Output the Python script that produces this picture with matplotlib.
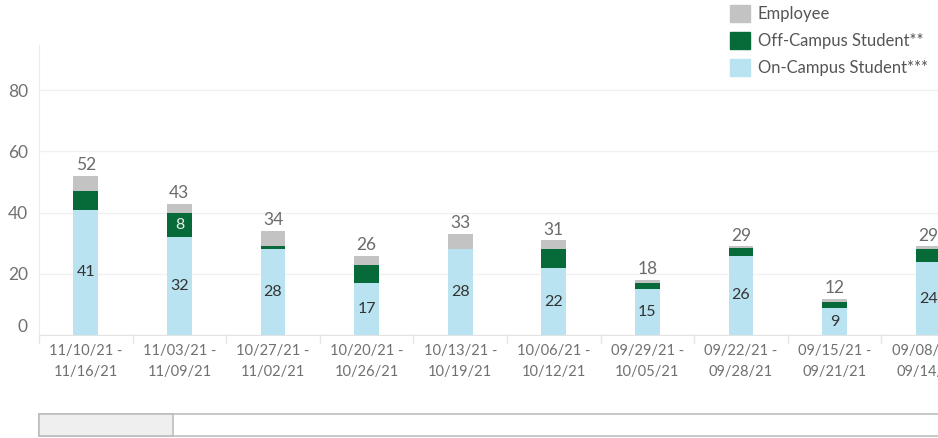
import matplotlib.pyplot as plt
from matplotlib.patches import Patch, Rectangle
from matplotlib.transforms import ScaledTranslation

# weekly case counts (newest week first)
weeks = ["11/10/21 -\n11/16/21", "11/03/21 -\n11/09/21", "10/27/21 -\n11/02/21",
         "10/20/21 -\n10/26/21", "10/13/21 -\n10/19/21", "10/06/21 -\n10/12/21",
         "09/29/21 -\n10/05/21", "09/22/21 -\n09/28/21", "09/15/21 -\n09/21/21",
         "09/08/21 -\n09/14/21"]
on_campus = [41, 32, 28, 17, 28, 22, 15, 26, 9, 24]
off_campus = [6, 8, 1, 6, 0.3, 6, 2, 2.5, 2, 4]
employee = [5, 3, 5, 3, 4.7, 3, 1, 0.5, 1, 1]
series_names = ["Employee", "Off-Campus Student**", "On-Campus Student***"]

c_emp = "#c3c3c3"
c_off = "#076b39"
c_on = "#bae3f1"

plt.rcParams['font.family'] = ['Lato', 'DejaVu Sans']

fig = plt.figure(figsize=(9.38, 4.38), dpi=100)
W, H = 938, 438
# axes box in pixels: left 39, right 938, top 45, bottom 335
ax = fig.add_axes([39 / W, 1 - 335.3 / H, (938 - 39) / W, (335.3 - 45) / H])

x = list(range(len(weeks)))
bw = 0.267
bottom_off = on_campus
bottom_emp = [a + b for a, b in zip(on_campus, off_campus)]
totals = [a + b + c for a, b, c in zip(on_campus, off_campus, employee)]

ax.bar(x, on_campus, width=bw, color=c_on, zorder=3)
ax.bar(x, off_campus, width=bw, bottom=bottom_off, color=c_off, zorder=3)
ax.bar(x, employee, width=bw, bottom=bottom_emp, color=c_emp, zorder=3)

# labels
for i in x:
    ax.text(i, on_campus[i] / 2, f"{on_campus[i]:.0f}", ha="center", va="center",
            fontsize=11.5, color="#333333", zorder=4)
    if off_campus[i] >= 7:
        ax.text(i, on_campus[i] + off_campus[i] / 2, f"{off_campus[i]:.0f}", ha="center",
                va="center", fontsize=11.5, color="#e8efe9", zorder=4)
    ax.annotate(f"{totals[i]:.0f}", (i, totals[i]), xytext=(0, 2), textcoords="offset points",
                ha="center", va="bottom", fontsize=12.5, color="#6b6b6b", zorder=4)

ax.set_xlim(-0.5, -0.5 + (938 - 39) / 93.6)
ax.set_ylim(0, (335.3 - 45) / 3.065)

ax.set_yticks([0, 20, 40, 60, 80])
ax.grid(axis="y", color="#f0f0f0", linewidth=1, zorder=0)
ax.tick_params(axis="y", length=0, pad=8, labelsize=12.5, labelcolor="#707070")
lbl0 = ax.get_yticklabels()[0]
lbl0.set_transform(lbl0.get_transform() + ScaledTranslation(0, 10 / 100, fig.dpi_scale_trans))

ax.set_xticks(x)
ax.set_xticklabels(weeks, fontsize=10.5, color="#707070", linespacing=1.7)
ax.tick_params(axis="x", length=0, pad=6)

# column separators below the axis
for k in range(len(weeks) + 1):
    ax.plot([k - 0.5, k - 0.5], [0, -2.6], color="#e6e6e6", lw=1, clip_on=False, zorder=1)

for s in ["top", "right"]:
    ax.spines[s].set_visible(False)
ax.spines["left"].set_color("#ececec")
ax.spines["bottom"].set_color("#e3e3e3")
ax.spines["bottom"].set_linestyle((0, (2, 1)))

# legend
handles = [Patch(color=c) for c in [c_emp, c_off, c_on]]
fig.legend(handles, series_names, loc="upper left", bbox_to_anchor=(730 / W, 1 - 5 / H),
           frameon=False, fontsize=12, labelcolor="#555555", handlelength=1.2,
           handleheight=1.2, handletextpad=0.45, labelspacing=0.6, borderpad=0,
           borderaxespad=0)

# scroll bar
fig.add_artist(Rectangle((39 / W, 1 - 436 / H), (940 - 39) / W, 22 / H, transform=fig.transFigure,
                         facecolor="white", edgecolor="#bdbdbd", lw=1.2))
fig.add_artist(Rectangle((39 / W, 1 - 436 / H), (173 - 39) / W, 22 / H, transform=fig.transFigure,
                         facecolor="#efefef", edgecolor="#bdbdbd", lw=1.2))

fig.savefig("out.png", dpi=100)
